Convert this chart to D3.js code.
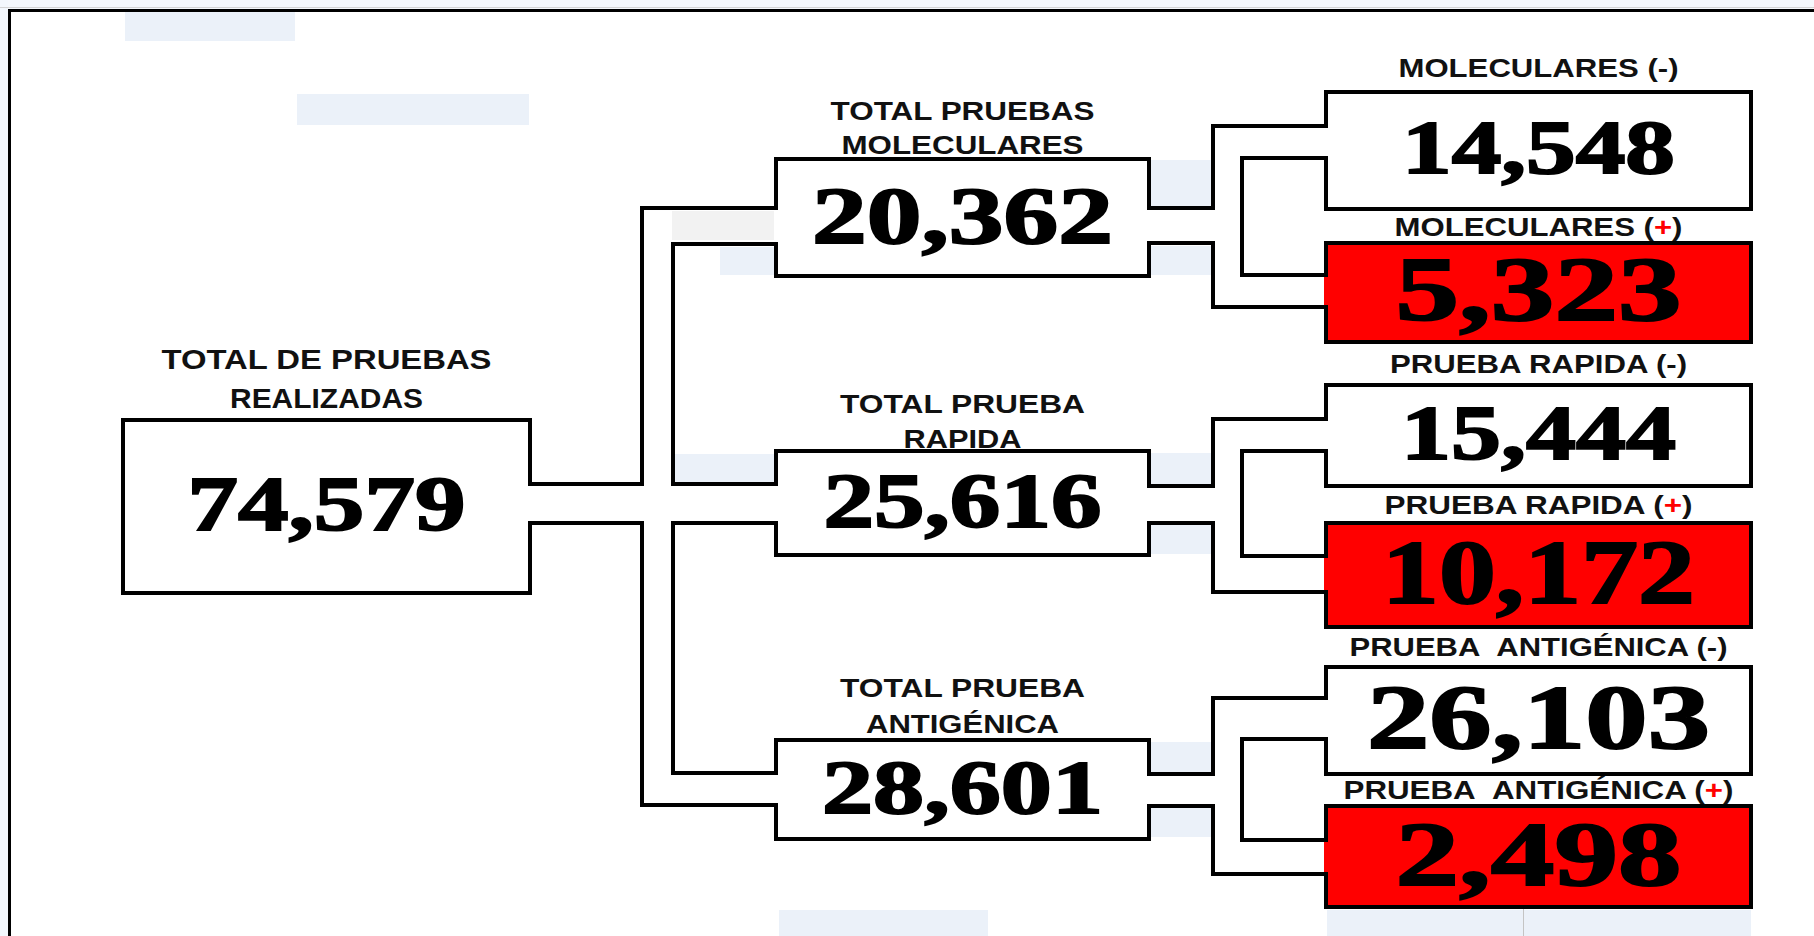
<!DOCTYPE html>
<html>
<head>
<meta charset="utf-8">
<script src="https://cdn.jsdelivr.net/npm/d3@7"></script>
<style>
  html, body { margin: 0; padding: 0; background: #fff; overflow: hidden; }
</style>
</head>
<body>
<svg id="chart" width="1814" height="936"></svg>
<script>
// ---- data ----
var nodeIds = ["total", "molec", "rapida", "antig", "molecNeg", "molecPos", "rapNeg", "rapPos", "antNeg", "antPos"];
var nodeParents = [null, "total", "total", "total", "molec", "molec", "rapida", "rapida", "antig", "antig"];
var nodeTitles = [
  ["TOTAL DE PRUEBAS", "REALIZADAS"],
  ["TOTAL PRUEBAS", "MOLECULARES"],
  ["TOTAL PRUEBA", "RAPIDA"],
  ["TOTAL PRUEBA", "ANTIGÉNICA"],
  ["MOLECULARES (-)"],
  ["MOLECULARES (+)"],
  ["PRUEBA RAPIDA (-)"],
  ["PRUEBA RAPIDA (+)"],
  ["PRUEBA  ANTIGÉNICA (-)"],
  ["PRUEBA  ANTIGÉNICA (+)"]
];
var nodeValues = [74579, 20362, 25616, 28601, 14548, 5323, 15444, 10172, 26103, 2498];
var nodePositive = [false, false, false, false, false, true, false, true, false, true];

// ---- layout (pixels) ----
var boxes = [
  [123, 420, 530, 593], [776, 159, 1149, 276], [776, 451, 1149, 555], [776, 740, 1149, 839],
  [1326, 92, 1751, 209], [1326, 243, 1751, 342], [1326, 385, 1751, 486],
  [1326, 523, 1751, 627], [1326, 667, 1751, 774], [1326, 806, 1751, 907]
];
var portsIn = [null, [208, 244], [484, 523], [773, 805], [126, 158], [275, 307], [419, 451], [556, 592], [698, 739], [840, 874]];
var portsOut = [[484, 523], [208, 243], [486, 523], [774, 806], null, null, null, null, null, null];
var wallX = { total: [642, 673], molec: [1213, 1242], rapida: [1213, 1242], antig: [1213, 1242] };
var titleBase = [[369, 408], [120, 154], [413, 448], [697, 733], [77], [236], [373], [514], [656], [799]];
var titleWidth = [[330, 193], [264, 242], [245, 118], [245, 193], [280], [288], [297], [308], [378], [390]];
var titleSize = [28, 26, 26, 26, 26, 26, 26, 26, 26, 26];
var valueBase = [530, 243, 527, 813, 173, 320, 459, 603, 748, 885];
var valueHeight = [52, 53, 51, 50, 50, 60, 51, 60, 60, 60];
var valueWidth = [278, 301, 278, 281, 273, 286, 275, 313, 343, 286];

// faint watermark pieces behind the diagram
var patches = [
  [125, 10, 295, 41], [297, 94, 529, 125], [720, 247, 777, 275], [1149, 160, 1213, 206],
  [1149, 246, 1213, 275], [672, 454, 775, 482], [1149, 453, 1213, 484], [1149, 525, 1213, 554],
  [1149, 742, 1213, 772], [1149, 808, 1213, 837], [779, 910, 988, 936], [1327, 910, 1751, 936]
];

var RED = "#ff0000", INK = "#000", LW = 4;
var fmt = d3.format(",");

var svg = d3.select("#chart");
var W = +svg.attr("width"), H = +svg.attr("height");

var nodes = nodeIds.map(function(id, i) {
  var b = boxes[i];
  return {
    id: id, parent: nodeParents[i], titles: nodeTitles[i], value: nodeValues[i],
    pos: nodePositive[i], x0: b[0], y0: b[1], x1: b[2], y1: b[3],
    pin: portsIn[i], pout: portsOut[i], i: i
  };
});

// background
svg.append("rect").attr("width", W).attr("height", H).attr("fill", "#fff");
svg.append("rect").attr("width", W).attr("height", 9).attr("fill", "#f5f8fc");
svg.append("rect").attr("width", 8).attr("height", H).attr("fill", "#f3f7fc");
svg.append("line").attr("x1", 0).attr("x2", W).attr("y1", 7.5).attr("y2", 7.5)
  .attr("stroke", "#d4d4d4").attr("stroke-width", 1);

svg.append("g").selectAll("rect")
  .data(patches)
  .enter().append("rect")
    .attr("x", function(d) { return d[0]; })
    .attr("y", function(d) { return d[1]; })
    .attr("width", function(d) { return d[2] - d[0]; })
    .attr("height", function(d) { return d[3] - d[1]; })
    .attr("fill", "#ebf1f9");
svg.append("rect").attr("x", 672).attr("y", 211).attr("width", 105).attr("height", 29).attr("fill", "#f2f2f2");

// outer frame (top and left only)
svg.append("line").attr("x1", 8).attr("x2", W).attr("y1", 10.5).attr("y2", 10.5)
  .attr("stroke", INK).attr("stroke-width", 3);
svg.append("line").attr("x1", 9.5).attr("x2", 9.5).attr("y1", 9).attr("y2", H)
  .attr("stroke", INK).attr("stroke-width", 3);
svg.append("line").attr("x1", 1523.5).attr("x2", 1523.5).attr("y1", 909).attr("y2", H)
  .attr("stroke", "#c4c4c4").attr("stroke-width", 1);

// hollow "pipe" connectors: outer walls plus inner walls between siblings
var line = d3.line();
var walls = [];
nodes.forEach(function(p) {
  var kids = nodes.filter(function(n) { return n.parent === p.id; });
  if (!kids.length) return;
  var xo = wallX[p.id][0], xi = wallX[p.id][1];
  var first = kids[0], last = kids[kids.length - 1];
  walls.push([[p.x1, p.pout[0]], [xo, p.pout[0]], [xo, first.pin[0]], [first.x0, first.pin[0]]]);
  for (var k = 0; k < kids.length - 1; k++) {
    var a = kids[k], b = kids[k + 1];
    walls.push([[a.x0, a.pin[1]], [xi, a.pin[1]], [xi, b.pin[0]], [b.x0, b.pin[0]]]);
  }
  walls.push([[p.x1, p.pout[1]], [xo, p.pout[1]], [xo, last.pin[1]], [last.x0, last.pin[1]]]);
});

svg.append("g").selectAll("path")
  .data(walls)
  .enter().append("path")
    .attr("d", line)
    .attr("fill", "none")
    .attr("stroke", INK)
    .attr("stroke-width", LW)
    .attr("stroke-linejoin", "miter")
    .attr("stroke-linecap", "square");

// boxes
var g = svg.append("g").selectAll("g")
  .data(nodes)
  .enter().append("g");

g.append("rect")
  .attr("x", function(d) { return d.x0; })
  .attr("y", function(d) { return d.y0; })
  .attr("width", function(d) { return d.x1 - d.x0; })
  .attr("height", function(d) { return d.y1 - d.y0; })
  .attr("fill", function(d) { return d.pos ? RED : "#fff"; })
  .attr("stroke", INK)
  .attr("stroke-width", LW);

// open the box edge where a pipe enters
g.each(function(d) {
  var sel = d3.select(this), fill = d.pos ? RED : "#fff";
  [[d.pin, d.x0, 1], [d.pout, d.x1, -1]].forEach(function(p) {
    if (!p[0]) return;
    sel.append("line")
      .attr("x1", p[1] + p[2] * 0.5).attr("x2", p[1] + p[2] * 0.5)
      .attr("y1", p[0][0] + LW / 2).attr("y2", p[0][1] - LW / 2)
      .attr("stroke", fill).attr("stroke-width", LW + 1);
  });
});

// titles above boxes
g.each(function(d) {
  var sel = d3.select(this), cx = (d.x0 + d.x1) / 2;
  d.titles.forEach(function(str, j) {
    var t = sel.append("text")
      .attr("x", cx)
      .attr("y", titleBase[d.i][j])
      .attr("text-anchor", "middle")
      .attr("font-family", "'Liberation Sans', Arial, sans-serif")
      .attr("font-weight", "bold")
      .attr("font-size", titleSize[d.i])
      .attr("fill", "#111")
      .attr("textLength", titleWidth[d.i][j])
      .attr("lengthAdjust", "spacingAndGlyphs");
    str.replace("  ", " \u00a0").split("+").forEach(function(part, k) {
      if (k > 0) t.append("tspan").attr("fill", RED).text("+");
      t.append("tspan").text(part);
    });
  });
});

// values
g.append("text")
  .attr("x", function(d) { return (d.x0 + d.x1) / 2; })
  .attr("y", function(d) { return valueBase[d.i]; })
  .attr("text-anchor", "middle")
  .attr("font-family", "'Liberation Serif', 'Times New Roman', serif")
  .attr("font-weight", "bold")
  .attr("font-size", function(d) { return valueHeight[d.i] / 0.66; })
  .attr("textLength", function(d) { return valueWidth[d.i]; })
  .attr("lengthAdjust", "spacingAndGlyphs")
  .attr("fill", INK)
  .attr("stroke", INK)
  .attr("stroke-width", 2)
  .text(function(d) { return fmt(d.value); });
</script>
</body>
</html>
